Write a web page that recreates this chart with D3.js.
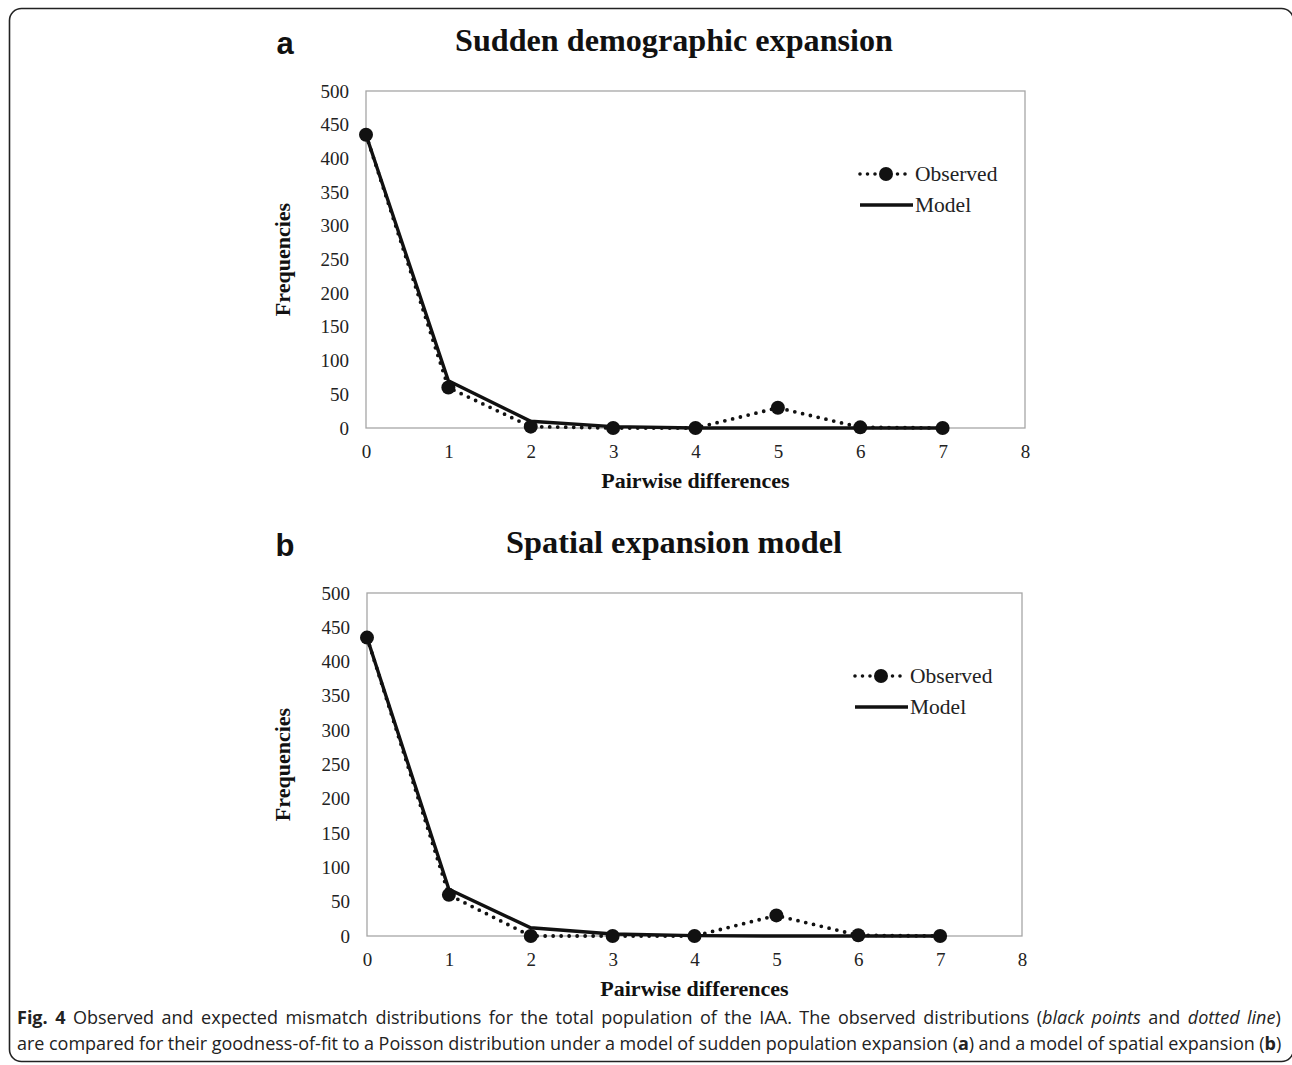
<!DOCTYPE html>
<html>
<head>
<meta charset="utf-8">
<script src="https://cdn.jsdelivr.net/npm/d3@7"></script>
<style>
  body { margin: 0; background: #fff; }
  svg { display: block; }
</style>
</head>
<body>
<svg id="fig" width="1292" height="1065"></svg>
<script>
// mismatch distributions
var diffs = [0, 1, 2, 3, 4, 5, 6, 7];
var observedA = [435, 60, 2, 0, 0, 30, 1, 0];
var modelA = [435, 70, 10, 2, 0, 0, 0, 0];
var observedB = [435, 60, 0, 0, 0, 30, 1, 0];
var modelB = [435, 68, 12, 3, 0.5, 0, 0, 0];
var yTicks = [0, 50, 100, 150, 200, 250, 300, 350, 400, 450, 500];
var xTicks = [0, 1, 2, 3, 4, 5, 6, 7, 8];

var svg = d3.select("#fig");
var serif = "'Liberation Serif', 'DejaVu Serif', serif";
var sans = "'Liberation Sans', Arial, sans-serif";

// outer rounded frame
svg.append("rect")
  .attr("x", 9.5).attr("y", 8.5)
  .attr("width", 1284).attr("height", 1053)
  .attr("rx", 12)
  .attr("fill", "none")
  .attr("stroke", "#222")
  .attr("stroke-width", 1.6);

function drawPanel(o) {
  var x = d3.scaleLinear().domain([0, 8]).range([o.left, o.right]);
  var y = d3.scaleLinear().domain([0, 500]).range([o.bottom, o.top]);
  var g = svg.append("g");

  // plot frame
  g.append("rect")
    .attr("x", o.left).attr("y", o.top)
    .attr("width", o.right - o.left).attr("height", o.bottom - o.top)
    .attr("fill", "none").attr("stroke", "#a6a6a6").attr("stroke-width", 1.3);

  var yAxis = g.append("g")
    .attr("transform", "translate(" + o.left + ",0)")
    .call(d3.axisLeft(y).tickValues(yTicks).tickSize(0).tickPadding(17));
  var xAxis = g.append("g")
    .attr("transform", "translate(0," + o.bottom + ")")
    .call(d3.axisBottom(x).tickValues(xTicks).tickSize(0).tickPadding(17));
  [xAxis, yAxis].forEach(function(a) {
    a.select(".domain").remove();
    a.selectAll("text")
      .attr("font-family", serif).attr("font-size", 19).attr("fill", "#222");
  });

  var line = d3.line()
    .x(function(d, i) { return x(diffs[i]); })
    .y(function(d) { return y(d); });

  g.append("path").datum(o.observed)
    .attr("d", line).attr("fill", "none")
    .attr("stroke", "#111").attr("stroke-width", 3.8)
    .attr("stroke-linecap", "round").attr("stroke-dasharray", "0,8");

  g.append("path").datum(o.model)
    .attr("d", line).attr("fill", "none")
    .attr("stroke", "#111").attr("stroke-width", 3.4);

  g.selectAll("circle.obs").data(o.observed).enter()
    .append("circle").attr("class", "obs")
    .attr("cx", function(d, i) { return x(diffs[i]); })
    .attr("cy", function(d) { return y(d); })
    .attr("r", 7).attr("fill", "#111");

  // titles and labels
  var mid = (o.left + o.right) / 2;
  g.append("text").attr("x", 674).attr("y", o.top - 40)
    .attr("text-anchor", "middle")
    .attr("font-family", serif).attr("font-weight", "bold").attr("font-size", 31)
    .attr("textLength", o.titleWidth).attr("lengthAdjust", "spacingAndGlyphs")
    .attr("fill", "#111").text(o.title);
  g.append("text").attr("x", 285).attr("y", o.top - 37)
    .attr("text-anchor", "middle")
    .attr("font-family", sans).attr("font-weight", "bold").attr("font-size", 31)
    .attr("fill", "#111").text(o.letter);
  g.append("text").attr("x", mid).attr("y", o.bottom + 60)
    .attr("text-anchor", "middle")
    .attr("font-family", serif).attr("font-weight", "bold").attr("font-size", 22)
    .attr("fill", "#111").text("Pairwise differences");
  g.append("text")
    .attr("transform", "translate(290," + ((o.top + o.bottom) / 2) + ") rotate(-90)")
    .attr("text-anchor", "middle")
    .attr("font-family", serif).attr("font-weight", "bold").attr("font-size", 22)
    .attr("fill", "#111").text("Frequencies");

  // legend
  var lx = o.legendX, ly = o.legendY;
  g.append("line").attr("x1", lx).attr("x2", lx + 52).attr("y1", ly).attr("y2", ly)
    .attr("stroke", "#111").attr("stroke-width", 3.6)
    .attr("stroke-linecap", "round").attr("stroke-dasharray", "0,7.5");
  g.append("circle").attr("cx", lx + 26).attr("cy", ly).attr("r", 7).attr("fill", "#111");
  g.append("text").attr("x", lx + 55).attr("y", ly + 7)
    .attr("font-family", serif).attr("font-size", 21.5).attr("fill", "#222").text("Observed");
  g.append("line").attr("x1", lx).attr("x2", lx + 53).attr("y1", ly + 31).attr("y2", ly + 31)
    .attr("stroke", "#111").attr("stroke-width", 3.4);
  g.append("text").attr("x", lx + 55).attr("y", ly + 38)
    .attr("font-family", serif).attr("font-size", 21.5).attr("fill", "#222").text("Model");
}

drawPanel({
  letter: "a", title: "Sudden demographic expansion", titleWidth: 438,
  left: 366, right: 1025, top: 91, bottom: 428,
  observed: observedA, model: modelA,
  legendX: 860, legendY: 174
});
drawPanel({
  letter: "b", title: "Spatial expansion model", titleWidth: 336,
  left: 367, right: 1022, top: 593, bottom: 936,
  observed: observedB, model: modelB,
  legendX: 855, legendY: 676
});

// caption, justified with word spacing
var cap = svg.append("g").attr("font-family", "'Open Sans', 'Noto Sans', sans-serif")
  .attr("font-size", 18).attr("fill", "#222");
var l1 = cap.append("text").attr("x", 17).attr("y", 1024).attr("word-spacing", 2.8);
l1.append("tspan").attr("font-weight", "bold").text("Fig. 4");
l1.append("tspan").text(" Observed and expected mismatch distributions for the total population of the IAA. The observed distributions (");
l1.append("tspan").attr("font-style", "italic").text("black points");
l1.append("tspan").text(" and ");
l1.append("tspan").attr("font-style", "italic").text("dotted line");
l1.append("tspan").text(")");
var l2 = cap.append("text").attr("x", 17).attr("y", 1050).attr("word-spacing", -0.2);
l2.append("tspan").text("are compared for their goodness-of-fit to a Poisson distribution under a model of sudden population expansion (");
l2.append("tspan").attr("font-weight", "bold").text("a");
l2.append("tspan").text(") and a model of spatial expansion (");
l2.append("tspan").attr("font-weight", "bold").text("b");
l2.append("tspan").text(")");
</script>
</body>
</html>
